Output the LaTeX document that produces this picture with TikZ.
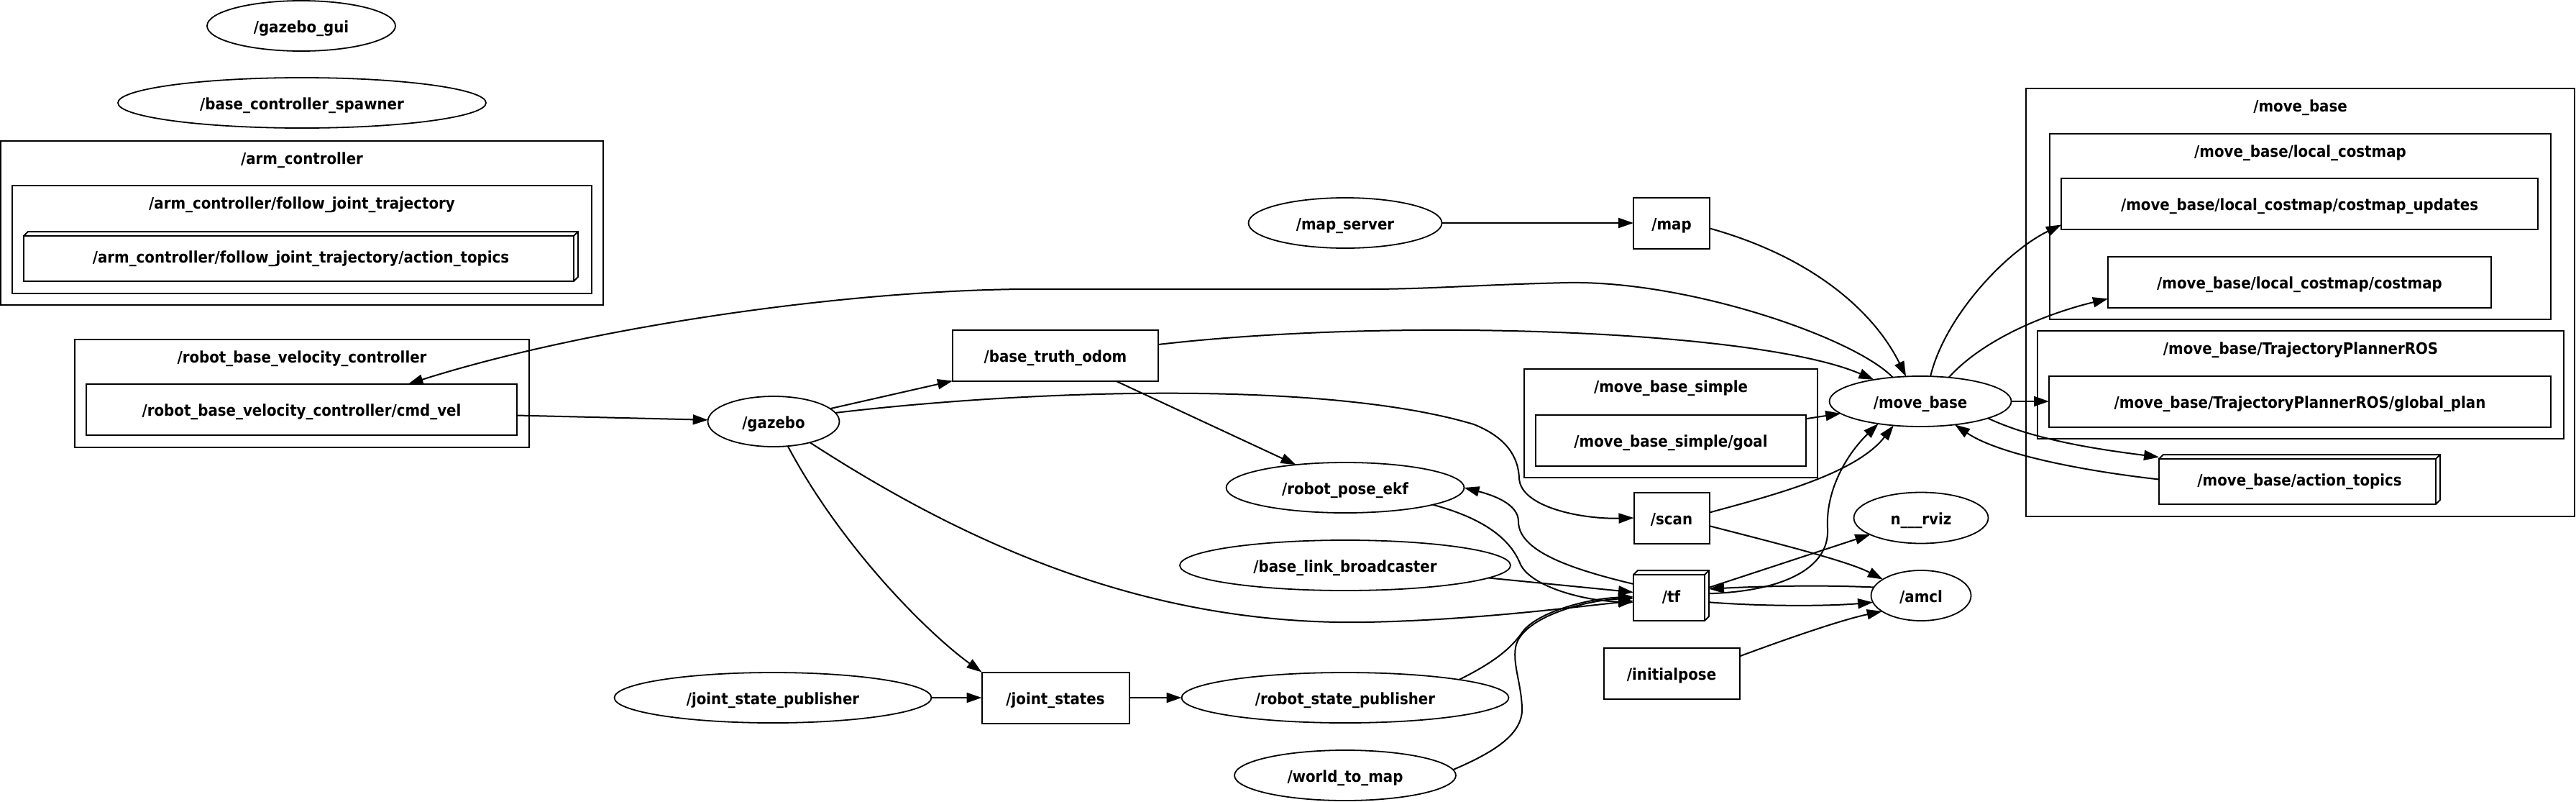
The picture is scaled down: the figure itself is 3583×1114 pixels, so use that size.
\documentclass[tikz,border=0pt]{standalone}
\usepackage{fontspec}
\setmainfont{DejaVu Sans}[FakeStretch=0.9]
\usetikzlibrary{arrows.meta,shapes.geometric}
\tikzset{
  rosgraph/.style={
    x=1pt, y=-1pt, line width=2pt,
    every node/.style={font=\bfseries\fontsize{22}{26}\selectfont,
      inner sep=0pt, outer sep=0pt, text height=19pt, text depth=1pt}
  },
  rosnode/.style={ellipse, draw, line width=1.8pt, minimum height=70pt},
  rostopic/.style={rectangle, draw, minimum height=71pt},
  rosaction/.style={rectangle, minimum height=69pt},
  ros cluster/.style={draw},
  ros edge/.style={-{Triangle[length=21pt,width=14pt]}}
}
% cluster: name, x1, y1, x2, y2, title
\newcommand{\RosCluster}[6]{%
  \draw[ros cluster] (#2,#3) rectangle (#4,#5);
  \node (#1) at ({(#2+#4)/2},#3+23) {#6};
}
% box3d look for action / tf topics
\newcommand{\BoxThreeD}[1]{%
  \draw (#1.south west) rectangle ([shift={(-6pt,-6pt)}]#1.north east);
  \draw ([yshift=-6pt]#1.north west) -- ([xshift=6pt]#1.north west)
    -- (#1.north east) -- ([yshift=6pt]#1.south east) -- ([xshift=-6pt]#1.south east);
  \draw ([shift={(-6pt,-6pt)}]#1.north east) -- (#1.north east);
}

\begin{document}
\begin{tikzpicture}[rosgraph]
  \useasboundingbox (0,0) rectangle (3583,1114);

  % clusters
  \RosCluster{armcl}{1}{196}{839}{424}{/arm\_controller}
  \RosCluster{fjtcl}{17}{258}{823}{408}{/arm\_controller/follow\_joint\_trajectory}
  \RosCluster{rbvccl}{104}{472}{736}{622}{/robot\_base\_velocity\_controller}
  \RosCluster{mbscl}{2120}{513}{2528}{664}{/move\_base\_simple}
  \RosCluster{mbcl}{2818}{123}{3581}{718}{/move\_base}
  \RosCluster{lccl}{2851}{186}{3548}{444}{/move\_base/local\_costmap}
  \RosCluster{tprcl}{2834}{460}{3566}{610}{/move\_base/TrajectoryPlannerROS}

  % nodes
  \node[rosnode, minimum width=262pt] (gzgui) at (419,36) {/gazebo\_gui};
  \node[rosnode, minimum width=512pt] (spawner) at (420,143) {/base\_controller\_spawner};
  \node[rosnode, minimum width=183pt] (gazebo) at (1076,586) {/gazebo};
  \node[rosnode, minimum width=331pt] (ekf) at (1871,678) {/robot\_pose\_ekf};
  \node[rosnode, minimum width=460pt] (blb) at (1871,786) {/base\_link\_broadcaster};
  \node[rosnode, minimum width=455pt] (rsp) at (1871,970) {/robot\_state\_publisher};
  \node[rosnode, minimum width=308pt] (wtm) at (1871,1078) {/world\_to\_map};
  \node[rosnode, minimum width=269pt] (mapsrv) at (1871,310) {/map\_server};
  \node[rosnode, minimum width=441pt] (jsp) at (1075,970) {/joint\_state\_publisher};
  \node[rosnode, minimum width=253pt] (mb) at (2671,558) {/move\_base};
  \node[rosnode, minimum width=187pt, minimum height=71pt] (rviz) at (2672,720) {n\_\_\_rviz};
  \node[rosnode, minimum width=139pt] (amcl) at (2672,828) {/amcl};

  % topics
  \node[rostopic, minimum width=599pt] (cmdvel) at (419.5,569.5) {/robot\_base\_velocity\_controller/cmd\_vel};
  \node[rostopic, minimum width=286pt] (bto) at (1468,494) {/base\_truth\_odom};
  \node[rostopic, minimum width=205pt] (js) at (1468,970) {/joint\_states};
  \node[rostopic, minimum width=106pt] (map) at (2325,310) {/map};
  \node[rostopic, minimum width=105pt] (scan) at (2325,720) {/scan};
  \node[rostopic, minimum width=189pt] (initpose) at (2325,936) {/initialpose};
  \node[rostopic, minimum width=376pt] (goal) at (2324,612) {/move\_base\_simple/goal};
  \node[rostopic, minimum width=663pt] (cu) at (3198.5,283.5) {/move\_base/local\_costmap/costmap\_updates};
  \node[rostopic, minimum width=533pt] (cm) at (3198.5,392) {/move\_base/local\_costmap/costmap};
  \node[rostopic, minimum width=698pt] (gp) at (3199,558) {/move\_base/TrajectoryPlannerROS/global\_plan};
  \node[rosaction, minimum width=771pt] (armtopics) at (418.5,356.5) {/arm\_controller/follow\_joint\_trajectory/action\_topics};
  \node[rosaction, minimum width=105pt, minimum height=70pt] (tf) at (2324.5,828) {/tf};
  \node[rosaction, minimum width=391pt] (mbtopics) at (3198.5,666.5) {/move\_base/action\_topics};
  \BoxThreeD{armtopics}
  \BoxThreeD{tf}
  \BoxThreeD{mbtopics}

  % edges
  \draw[ros edge] (mb.139) .. controls (2580,470) and (2350,390) .. (2180,393)
    .. controls (2050,396) and (1990,402) .. (1900,402) -- (1420,402)
    .. controls (1150,405) and (800,460) .. ([xshift=148pt]cmdvel.north);
  \draw[ros edge] ([yshift=-8pt]cmdvel.east) -- (gazebo);
  \draw[ros edge] (gazebo) -- (bto.south west);
  \draw[ros edge] (gazebo.8) .. controls (1450,540) and (1850,530) .. (2050,590)
    .. controls (2095,608) and (2112,635) .. (2113,665)
    .. controls (2115,705) and (2200,722) .. (scan.west);
  \draw[ros edge] (gazebo.-60) .. controls (1170,760) and (1290,880) .. (js.north west);
  \draw[ros edge] (gazebo.-30) .. controls (1350,760) and (1600,870) .. (1900,865)
    .. controls (2050,862) and (2180,845) .. (tf.-172);
  \draw[ros edge] (bto.6) .. controls (1950,440) and (2450,460) .. (mb.155);
  \draw[ros edge] (bto.-23) -- (ekf);
  \draw[ros edge] (mapsrv) -- (map);
  \draw[ros edge] (map.-8) .. controls (2530,360) and (2610,440) .. (mb.120);
  \draw[ros edge] (goal.9) -- (mb);
  \draw[ros edge] (scan.8) .. controls (2460,690) and (2580,660) .. (mb.-138);
  \draw[ros edge] (tf.3) .. controls (2480,822) and (2545,790) .. (2542,735)
    .. controls (2539,680) and (2570,630) .. (mb.-152);
  \draw[ros edge] (tf.163) .. controls (2180,790) and (2112,765) .. (2112,725)
    .. controls (2112,700) and (2075,688) .. (ekf.east);
  \draw[ros edge] (ekf.-11) .. controls (2080,725) and (2105,760) .. (2115,785)
    .. controls (2130,815) and (2200,835) .. (tf.-170);
  \draw[ros edge] (blb.-5) -- (tf.175);
  \draw[ros edge] (rsp.9) .. controls (2080,920) and (2103,900) .. (2118,878)
    .. controls (2140,850) and (2210,832) .. (tf.-178);
  \draw[ros edge] (wtm.3) .. controls (2080,1045) and (2118,1020) .. (2117,985)
    .. controls (2116,950) and (2104,925) .. (2108,900)
    .. controls (2115,860) and (2200,835) .. (tf.-176);
  \draw[ros edge] (tf.12) -- (rviz);
  \draw[ros edge] (amcl.170) .. controls (2530,813) and (2450,815) .. (tf.10);
  \draw[ros edge] (tf.-10) .. controls (2450,843) and (2540,843) .. (amcl.-172);
  \draw[ros edge] (scan.-12) .. controls (2470,755) and (2570,780) .. (amcl.157);
  \draw[ros edge] (initpose.14) .. controls (2480,890) and (2560,862) .. (amcl.-158);
  \draw[ros edge] (jsp) -- (js);
  \draw[ros edge] (js) -- (rsp);
  \draw[ros edge] (mb.68) .. controls (2705,440) and (2790,350) .. (cu.-175);
  \draw[ros edge] (mb.40) .. controls (2760,470) and (2850,435) .. (cm.-175);
  \draw[ros edge] (mb) -- (gp);
  \draw[ros edge] (mb.-14) .. controls (2830,612) and (2920,625) .. (mbtopics.171);
  \draw[ros edge] (mbtopics.west) .. controls (2900,655) and (2780,632) .. (mb.-34);
\end{tikzpicture}
\end{document}
